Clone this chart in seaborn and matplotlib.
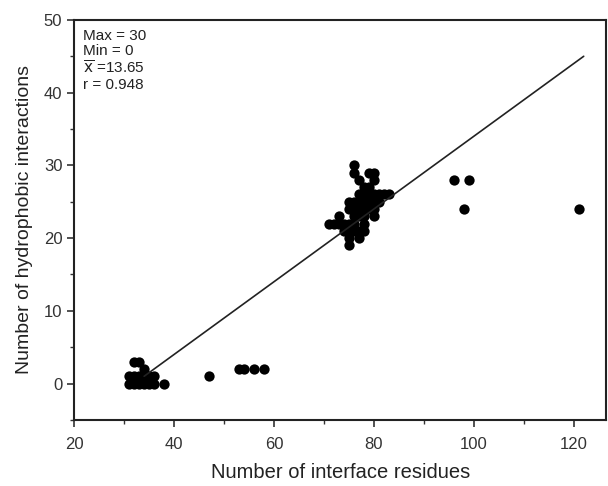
import matplotlib
matplotlib.use("Agg")
import matplotlib.pyplot as plt
import seaborn as sns
import pandas as pd
from matplotlib.ticker import MultipleLocator

interface_residues = [31, 31, 32, 32, 32, 33, 33, 33, 34, 34, 34, 35, 35, 36, 36, 38,
                      47, 53, 54, 56, 58,
                      71, 72, 73, 73, 74, 74, 75, 75, 75, 75, 75, 75, 76, 76, 76, 76, 76, 76, 76,
                      77, 77, 77, 77, 77, 77, 77, 78, 78, 78, 78, 78, 78, 78,
                      79, 79, 79, 79, 79, 80, 80, 80, 80, 80, 80, 81, 81, 82, 83,
                      96, 98, 99, 121]
hydrophobic = [0, 1, 0, 1, 3, 0, 1, 3, 0, 1, 2, 0, 1, 0, 1, 0,
               1, 2, 2, 2, 2,
               22, 22, 22, 23, 21, 22, 19, 20, 21, 22, 24, 25, 21, 22, 23, 24, 25, 29, 30,
               20, 21, 23, 24, 25, 26, 28, 21, 22, 23, 24, 25, 26, 27,
               24, 25, 26, 27, 29, 23, 24, 25, 26, 28, 29, 25, 26, 26, 26,
               28, 24, 28, 24]
fit_x = [34, 122]
fit_y = [1.0, 45.0]
stats_lines = ["Max = 30", "Min = 0", r"$\overline{\mathrm{x}}$ =13.65", "r = 0.948"]

sns.set_style("ticks")
plt.rcParams['font.family'] = ['Liberation Sans', 'DejaVu Sans']

df = pd.DataFrame({"x": interface_residues, "y": hydrophobic})
fig = plt.figure(figsize=(6.08, 4.86), dpi=100)
ax = fig.add_axes([0.122, 0.136, 0.875, 0.823])

sns.lineplot(x=fit_x, y=fit_y, ax=ax, color="#222222", linewidth=1.2)
sns.scatterplot(data=df, x="x", y="y", ax=ax, color="black", s=55, edgecolor="black", linewidth=0)

ax.set_xlim(20, 126.5)
ax.set_ylim(-5, 50)
ax.xaxis.set_major_locator(MultipleLocator(20))
ax.xaxis.set_minor_locator(MultipleLocator(10))
ax.yaxis.set_major_locator(MultipleLocator(10))
ax.yaxis.set_minor_locator(MultipleLocator(5))
ax.tick_params(which="major", direction="out", length=5, width=1.2, labelsize=12, colors="#333333")
ax.tick_params(axis="x", which="major", pad=7)
ax.tick_params(which="minor", direction="out", length=3, width=1.0, colors="#333333")
for sp in ax.spines.values():
    sp.set_linewidth(1.5)
    sp.set_color("#222222")
ax.set_xlabel("Number of interface residues", fontsize=14.5, color="#222222", labelpad=8)
ax.set_ylabel("Number of hydrophobic interactions", fontsize=14, color="#222222", labelpad=8)

ax.text(0.016, 0.978, "\n".join(stats_lines), transform=ax.transAxes, va="top", ha="left",
        fontsize=11, color="#222222", linespacing=1.12)

fig.savefig("out.png", dpi=100)
